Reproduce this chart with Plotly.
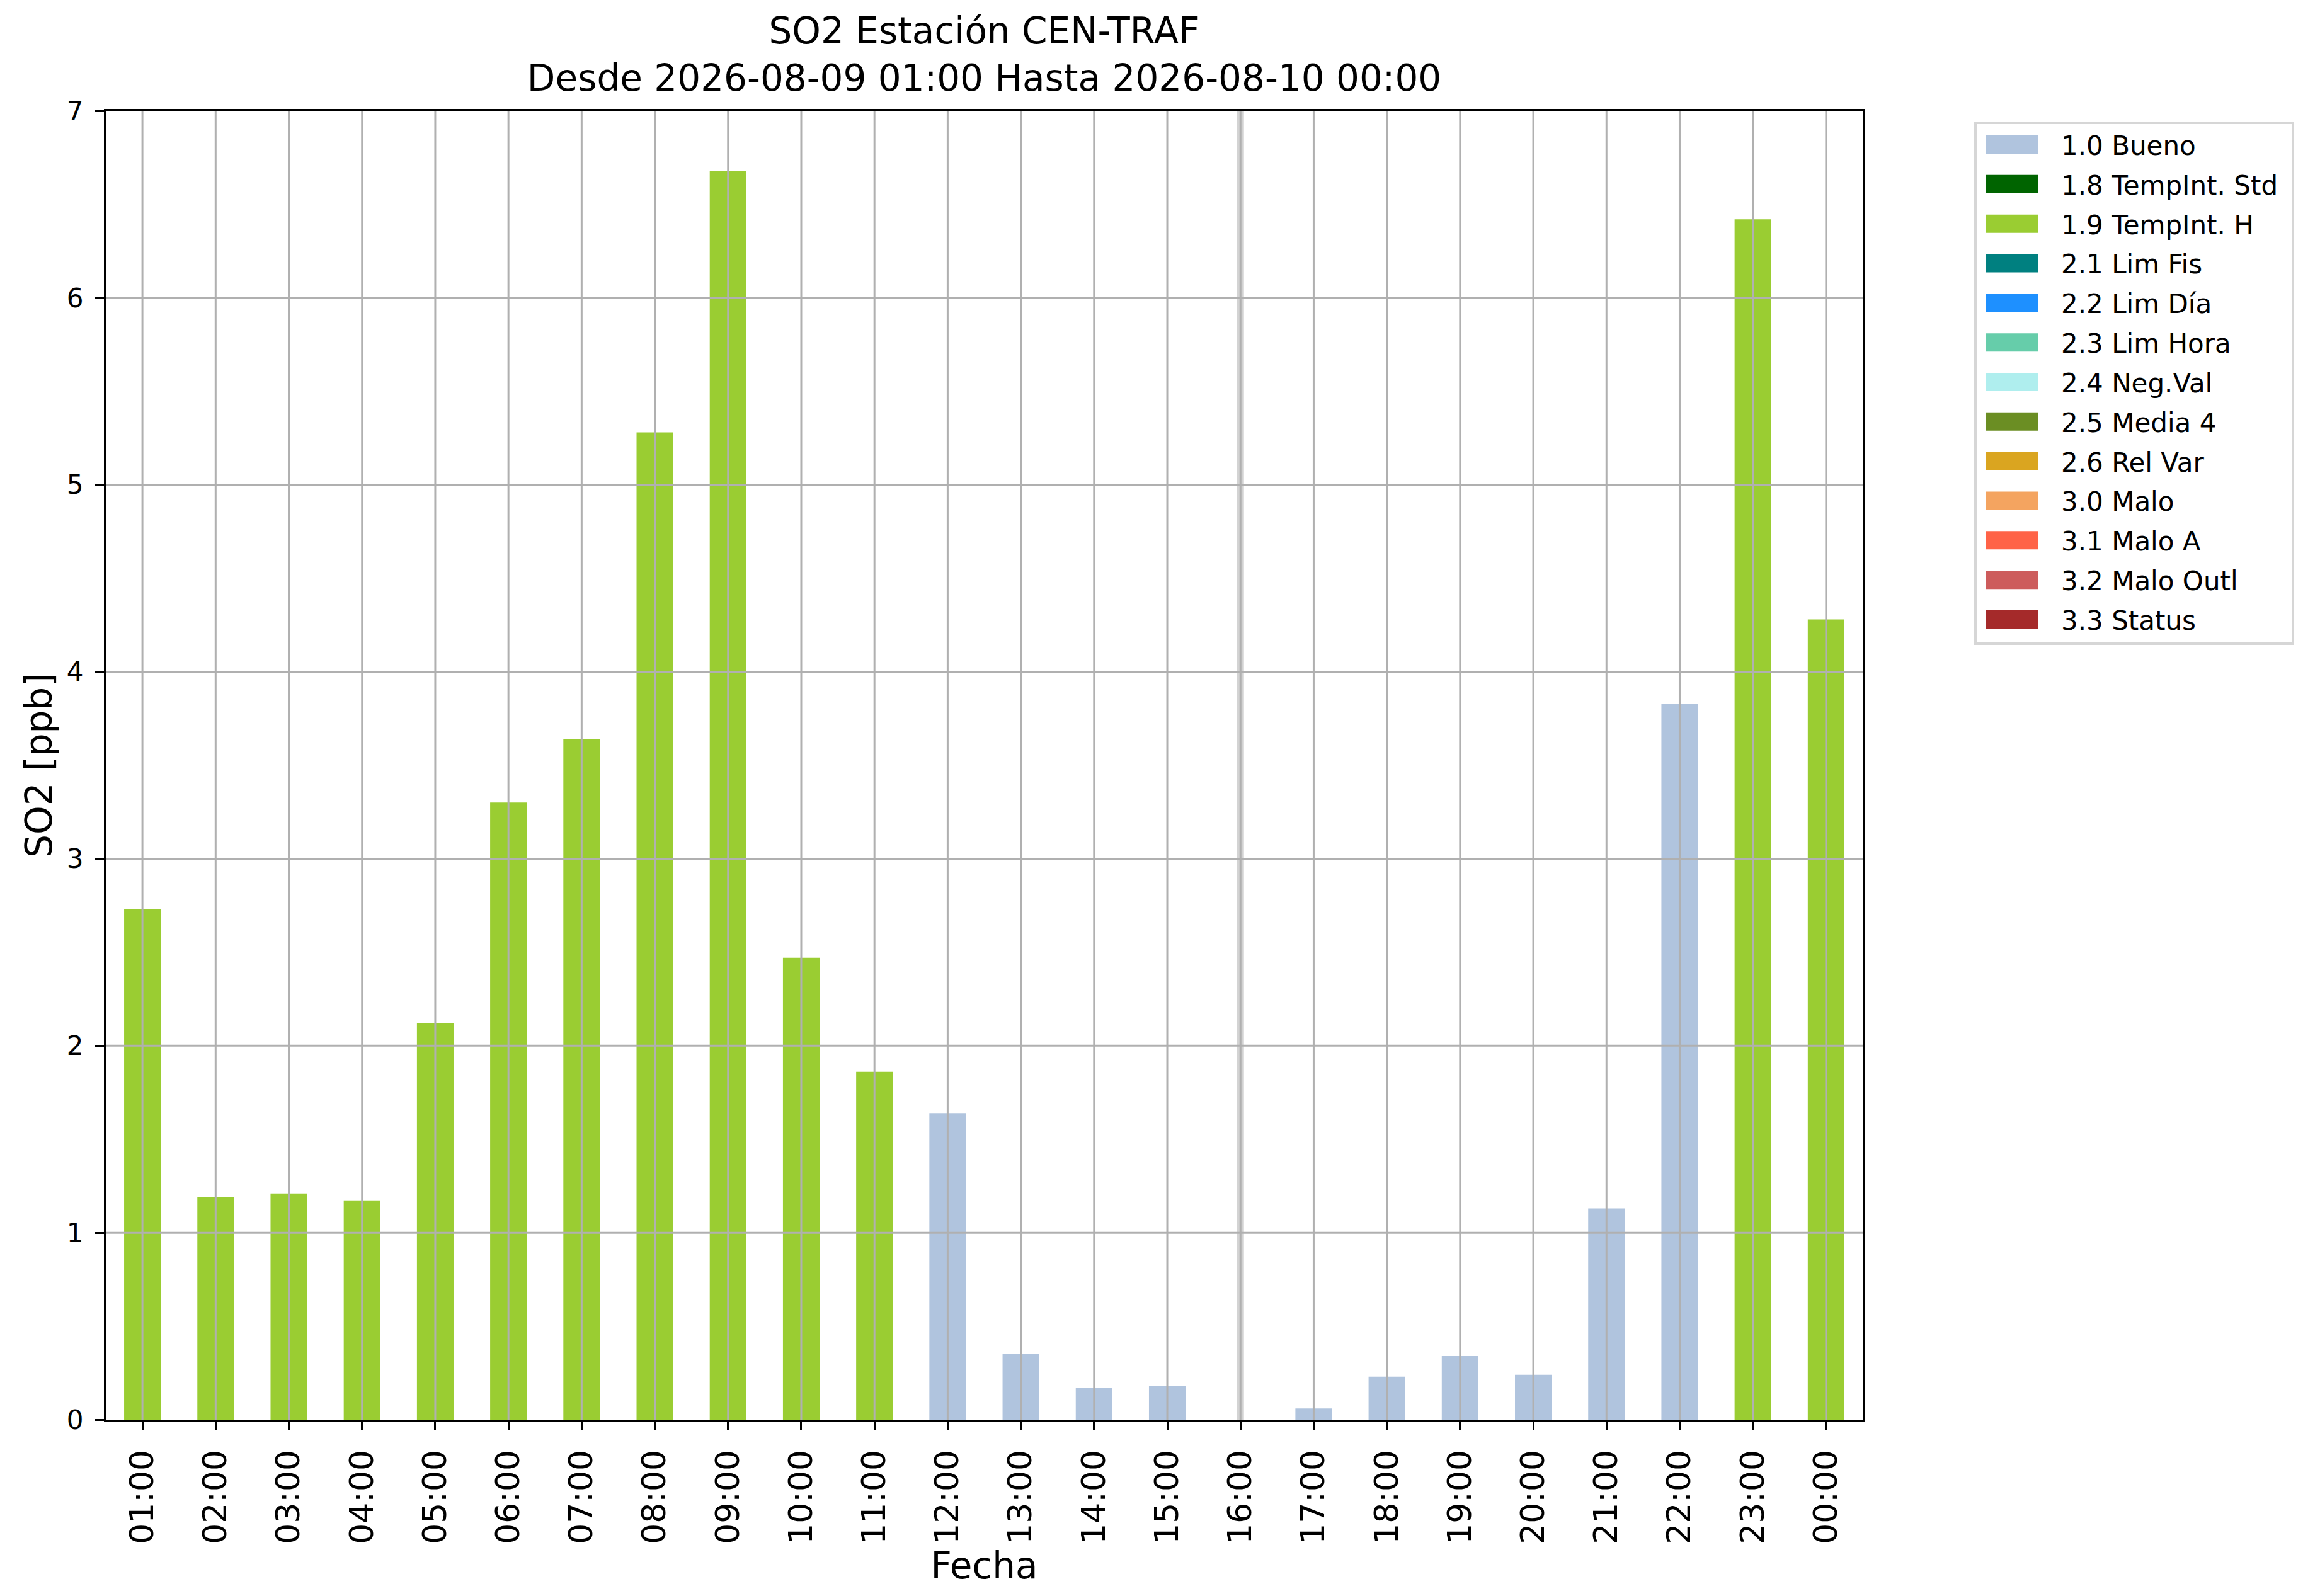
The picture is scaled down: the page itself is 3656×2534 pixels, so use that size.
import plotly.graph_objects as go

hours = ["01:00", "02:00", "03:00", "04:00", "05:00", "06:00", "07:00", "08:00",
         "09:00", "10:00", "11:00", "12:00", "13:00", "14:00", "15:00", "16:00",
         "17:00", "18:00", "19:00", "20:00", "21:00", "22:00", "23:00", "00:00"]
so2 = [2.73, 1.19, 1.21, 1.17, 2.12, 3.30, 3.64, 5.28,
       6.68, 2.47, 1.86, 1.64, 0.35, 0.17, 0.18, None,
       0.06, 0.23, 0.34, 0.24, 1.13, 3.83, 6.42, 4.28]
flags = ["1.9", "1.9", "1.9", "1.9", "1.9", "1.9", "1.9", "1.9",
         "1.9", "1.9", "1.9", "1.0", "1.0", "1.0", "1.0", None,
         "1.0", "1.0", "1.0", "1.0", "1.0", "1.0", "1.9", "1.9"]
y_ticks = [0, 1, 2, 3, 4, 5, 6, 7]

flag_codes = ["1.0", "1.8", "1.9", "2.1", "2.2", "2.3", "2.4", "2.5", "2.6",
              "3.0", "3.1", "3.2", "3.3"]
flag_names = ["Bueno", "TempInt. Std", "TempInt. H", "Lim Fis", "Lim Día",
              "Lim Hora", "Neg.Val", "Media 4", "Rel Var", "Malo", "Malo A",
              "Malo Outl", "Status"]
flag_colors = ["#B0C4DE", "#006400", "#9ACD32", "#008080", "#1E90FF", "#66CDAA",
               "#AFEEEE", "#6B8E23", "#DAA520", "#F4A460", "#FF6347", "#CD5C5C",
               "#A52A2A"]

FONT = "DejaVu Sans"
GRID = "#b0b0b0"
W, H = 3656, 2534
ML, MR, MT, MB = 160, 707, 168, 288


def px(x):
    # pixel -> paper x
    return (x - ML) / (W - ML - MR)


def py(y):
    # pixel -> paper y
    return (H - MB - y) / (H - MT - MB)


fig = go.Figure()
for code, name, color in zip(flag_codes, flag_names, flag_colors):
    y = [v if f == code else None for v, f in zip(so2, flags)]
    fig.add_trace(go.Bar(x=hours, y=y, marker_color=color, marker_line_width=0,
                         width=0.5, showlegend=False, name=f"{code} {name}"))

# hours without data get a light grey marker band
for i, v in enumerate(so2):
    if v is None:
        fig.add_shape(type="line", xref="x", yref="paper", x0=i, x1=i, y0=0, y1=1,
                      line=dict(color="#d3d3d3", width=11), layer="above")

# grid drawn over the bars, as in matplotlib
for i in range(len(hours)):
    fig.add_shape(type="line", xref="x", yref="paper", x0=i, x1=i, y0=0, y1=1,
                  line=dict(color=GRID, width=3), layer="above")
for t in y_ticks[1:-1]:
    fig.add_shape(type="line", xref="paper", yref="y", x0=0, x1=1, y0=t, y1=t,
                  line=dict(color=GRID, width=3), layer="above")

# legend box (matplotlib style, outside the axes)
fig.add_shape(type="rect", xref="paper", yref="paper",
              x0=px(3128), x1=px(3632), y0=py(187), y1=py(1014),
              line=dict(color="#d6d6d6", width=4), fillcolor="white", layer="above")
for i, (code, name, color) in enumerate(zip(flag_codes, flag_names, flag_colors)):
    cy = 221.5 + 62.83 * i
    fig.add_shape(type="rect", xref="paper", yref="paper",
                  x0=px(3145), x1=px(3228), y0=py(cy - 14.5), y1=py(cy + 14.5),
                  line_width=0, fillcolor=color, layer="above")
    fig.add_annotation(xref="paper", yref="paper", x=px(3262), y=py(cy + 2),
                       xanchor="left", yanchor="middle", showarrow=False,
                       text=f"{code} {name}", font=dict(size=42, family=FONT))

fig.update_layout(
    width=W, height=H,
    paper_bgcolor="white", plot_bgcolor="white",
    barmode="overlay", showlegend=False,
    font=dict(family=FONT, color="black"),
    margin=dict(l=ML, r=MR, t=MT, b=MB),
    title=dict(text="SO2 Estación CEN-TRAF<br>Desde 2026-08-09 01:00 Hasta 2026-08-10 00:00",
               x=0.4252, xanchor="center", y=0.976, yanchor="top",
               font=dict(size=58, family=FONT)),
)
fig.update_xaxes(
    type="category", range=[-0.5, 23.5], tickangle=-90,
    tickfont=dict(size=52, family=FONT), ticklabelstandoff=10,
    title=dict(text="Fecha", font=dict(size=58, family=FONT), standoff=0),
    showgrid=False,
    showline=True, linecolor="black", linewidth=3.3, mirror=True,
    ticks="outside", ticklen=14, tickwidth=3.3, tickcolor="black",
)
fig.update_yaxes(
    range=[0, 7], tickvals=y_ticks, tickfont=dict(size=42, family=FONT),
    ticklabelstandoff=10,
    title=dict(text="SO2 [ppb]", font=dict(size=58, family=FONT), standoff=5),
    showgrid=False, zeroline=False,
    showline=True, linecolor="black", linewidth=3.3, mirror=True,
    ticks="outside", ticklen=14, tickwidth=3.3, tickcolor="black",
)

fig.write_html("out.html")
